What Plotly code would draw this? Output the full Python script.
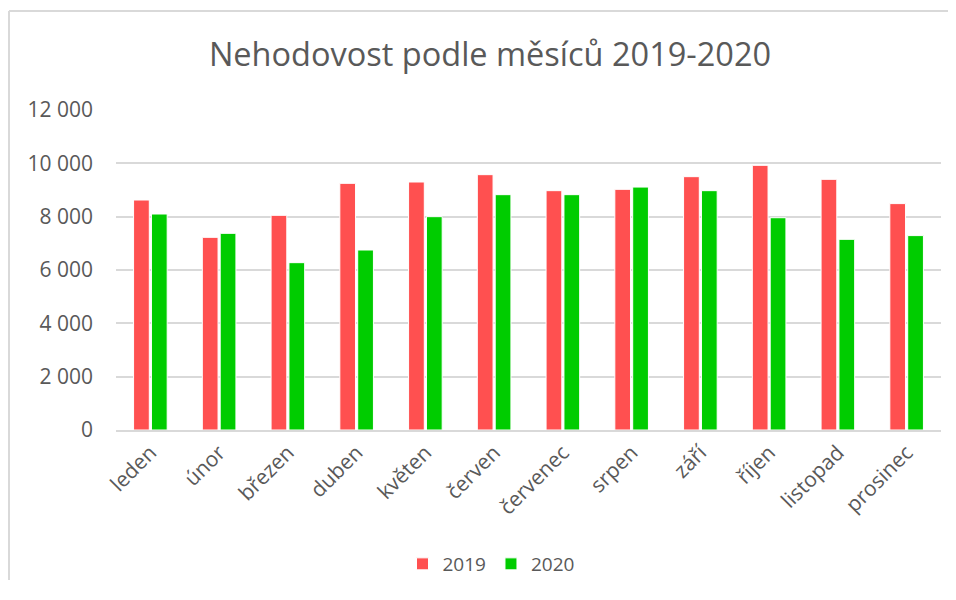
import plotly.graph_objects as go

months = ["leden", "únor", "březen", "duben", "květen", "červen",
          "červenec", "srpen", "září", "říjen", "listopad", "prosinec"]
values_2019 = [8625, 7225, 8050, 9250, 9300, 9575, 8975, 9025, 9500, 9925, 9400, 8490]
values_2020 = [8100, 7375, 6275, 6750, 8000, 8825, 8825, 9110, 8975, 7960, 7150, 7290]
y_ticks = [0, 2000, 4000, 6000, 8000, 10000, 12000]

TXT = "#595959"
GRID = "#D9D9D9"
FONT = "Open Sans"

# page body has an 8px margin, so the figure is drawn at (8, 8)
W, H = 940, 572
L, R, T, B = 108, 7, 102, 150
PW, PH = W - L - R, H - T - B

def px(x):
    return (x - L) / PW

def py(y):
    return (H - B - y) / PH

fig = go.Figure()
fig.add_trace(go.Bar(x=months, y=values_2019, name="2019",
                     marker=dict(color="#FF5050", line=dict(color="white", width=1))))
fig.add_trace(go.Bar(x=months, y=values_2020, name="2020",
                     marker=dict(color="#00CC00", line=dict(color="white", width=1))))

fig.update_layout(
    width=W, height=H,
    margin=dict(l=L, r=R, t=T, b=B, autoexpand=False),
    paper_bgcolor="white", plot_bgcolor="white",
    separators=", ",
    barmode="group", bargap=0.48, bargroupgap=0.12,
    font=dict(family=FONT, color=TXT, size=21),
    title=dict(text="Nehodovost podle měsíců 2019-2020", x=(490 - 8) / W, xanchor="center",
               y=1 - 47 / H, yanchor="middle",
               font=dict(family=FONT, size=32.5, color=TXT)),
    legend=dict(orientation="h", x=px(491 - 8), xanchor="center", y=py(564 - 8), yanchor="middle",
                font=dict(family=FONT, size=19, color=TXT), itemwidth=30,
                traceorder="normal"),
    xaxis=dict(tickangle=-45, showgrid=False, showline=True, linecolor=GRID, linewidth=2,
               ticks="", tickfont=dict(family=FONT, size=21, color=TXT)),
    yaxis=dict(range=[0, 12000], tickvals=y_ticks, tickformat=",d", showgrid=True,
               gridcolor=GRID, gridwidth=2, zeroline=False, showline=False, ticks="",
               ticklabelstandoff=22,
               tickfont=dict(family=FONT, size=21, color=TXT)),
    shapes=[
        dict(type="line", xref="paper", yref="paper", x0=px(1), x1=px(W),
             y0=py(3), y1=py(3), line=dict(color=GRID, width=2)),
        dict(type="line", xref="paper", yref="paper", x0=px(1), x1=px(1),
             y0=py(3), y1=py(H), line=dict(color=GRID, width=2)),
    ],
)

fig.write_html("out.html")
